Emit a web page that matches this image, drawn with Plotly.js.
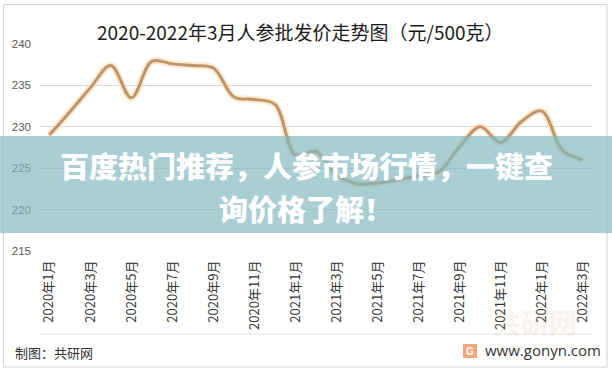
<!DOCTYPE html>
<html>
<head>
<meta charset="utf-8">
<script src="https://cdn.plot.ly/plotly-3.0.1.min.js"></script>
<style>
html,body{margin:0;padding:0;background:#fff;}
#chart{width:612px;height:370px;}
</style>
</head>
<body>
<div id="chart"></div>
<script>
const months = ["2020年1月","2020年2月","2020年3月","2020年4月","2020年5月","2020年6月","2020年7月","2020年8月","2020年9月","2020年10月","2020年11月","2020年12月",
"2021年1月","2021年2月","2021年3月","2021年4月","2021年5月","2021年6月","2021年7月","2021年8月","2021年9月","2021年10月","2021年11月","2021年12月",
"2022年1月","2022年2月","2022年3月"];
const prices = [229.0,231.8,234.7,237.4,233.5,237.9,237.6,237.4,237.1,233.6,233.3,232.7,
226.6,227.0,224.2,223.1,223.2,223.6,224.1,224.6,227.6,230.0,228.1,230.6,
231.9,227.2,226.0];
const tickMonths = months.filter((m,i)=>i%2===0);
const yTicks = [215,220,225,230,235,240];
const titleText = "2020-2022年3月人参批发价走势图（元/500克）";
const bannerLine1 = "百度热门推荐，人参市场行情，一键查";
const bannerLine2 = "询价格了解！";
const sourceText = "制图：共研网";
const siteText = "www.gonyn.com";

// pixel helpers (plot area: x 39..593, y 44..251)
const L=39, R=593, T=44, B=251;
const px = x => (x-L)/(R-L);
const py = y => (B-y)/(B-T);

const cjk = '"Noto Sans CJK SC", "Microsoft YaHei", sans-serif';

const traces = [
  {x: months, y: prices, type:'scatter', mode:'lines',
   line:{shape:'spline', smoothing:1, width:7, color:'rgba(245,220,185,0.6)'},
   hoverinfo:'skip', showlegend:false},
  {x: months, y: prices, type:'scatter', mode:'lines',
   line:{shape:'spline', smoothing:1, width:3, color:'#c39566'},
   showlegend:false}
];

const layout = {
  width:612, height:370,
  margin:{l:L, r:612-R, t:T, b:370-B, pad:0},
  paper_bgcolor:'#ffffff', plot_bgcolor:'#ffffff',
  font:{family:cjk, color:'#404040'},
  showlegend:false,
  xaxis:{type:'category', tickvals:tickMonths, ticktext:tickMonths, tickangle:-90,
    showgrid:false, zeroline:false, showline:false, ticks:'',
    tickfont:{size:13, color:'#333333', family:cjk}, ticklabelstandoff:6,
    range:[-0.5, months.length-0.5]},
  yaxis:{range:[215,240], tickvals:yTicks, showgrid:true, gridcolor:'#d9d9d9', gridwidth:1,
    zeroline:false, showline:false, ticks:'', tickfont:{size:11.5, color:'#595959', family:'"Liberation Sans", Arial, sans-serif'},
    ticklabelstandoff:7},
  shapes:[
    {type:'rect', xref:'paper', yref:'paper', x0:px(3.5), x1:px(607), y0:py(367), y1:py(4.5),
     line:{color:'#d4d4d4', width:1}, fillcolor:'rgba(0,0,0,0)', layer:'below'},
    {type:'line', xref:'paper', yref:'paper', x0:px(40), x1:px(593), y0:py(334), y1:py(334),
     line:{color:'#e3e3e3', width:1}},
    {type:'rect', xref:'paper', yref:'paper', x0:px(463), x1:px(477), y0:py(358), y1:py(344),
     line:{width:0}, fillcolor:'#f0a77e', layer:'above'},
    {type:'rect', xref:'paper', yref:'paper', x0:px(0), x1:px(612), y0:py(233), y1:py(136),
     line:{width:0}, fillcolor:'rgba(128,184,191,0.68)', layer:'above'}
  ],
  annotations:[
    {text:titleText, xref:'paper', yref:'paper', x:px(300), y:py(32), xanchor:'center', yanchor:'middle',
     showarrow:false, font:{size:19, color:'#1a1a1a', family:cjk}},
    {text:'共研网', xref:'paper', yref:'paper', x:px(535), y:py(322), xanchor:'center', yanchor:'middle',
     showarrow:false, font:{size:28, color:'rgba(235,160,120,0.13)', family:cjk, weight:'bold'}},
    {text:bannerLine1, xref:'paper', yref:'paper', x:px(306), y:py(165), xanchor:'center', yanchor:'middle',
     showarrow:false, font:{size:29, color:'#ffffff', family:cjk, weight:900}},
    {text:bannerLine2, xref:'paper', yref:'paper', x:px(306), y:py(208), xanchor:'center', yanchor:'middle',
     showarrow:false, font:{size:29, color:'#ffffff', family:cjk, weight:900}},
    {text:sourceText, xref:'paper', yref:'paper', x:px(13), y:py(352), xanchor:'left', yanchor:'middle',
     showarrow:false, font:{size:13, color:'#333333', family:cjk}},
    {text:'G', xref:'paper', yref:'paper', x:px(470), y:py(351), xanchor:'center', yanchor:'middle',
     showarrow:false, font:{size:10, color:'#ffffff', family:'"Liberation Sans", Arial, sans-serif', weight:'bold'}},
    {text:siteText, xref:'paper', yref:'paper', x:px(603), y:py(350), xanchor:'right', yanchor:'middle',
     showarrow:false, font:{size:15, color:'#333333', family:'"Open Sans", "Liberation Sans", sans-serif'}}
  ]
};

Plotly.newPlot('chart', traces, layout, {displayModeBar:false, staticPlot:true});
</script>
</body>
</html>
